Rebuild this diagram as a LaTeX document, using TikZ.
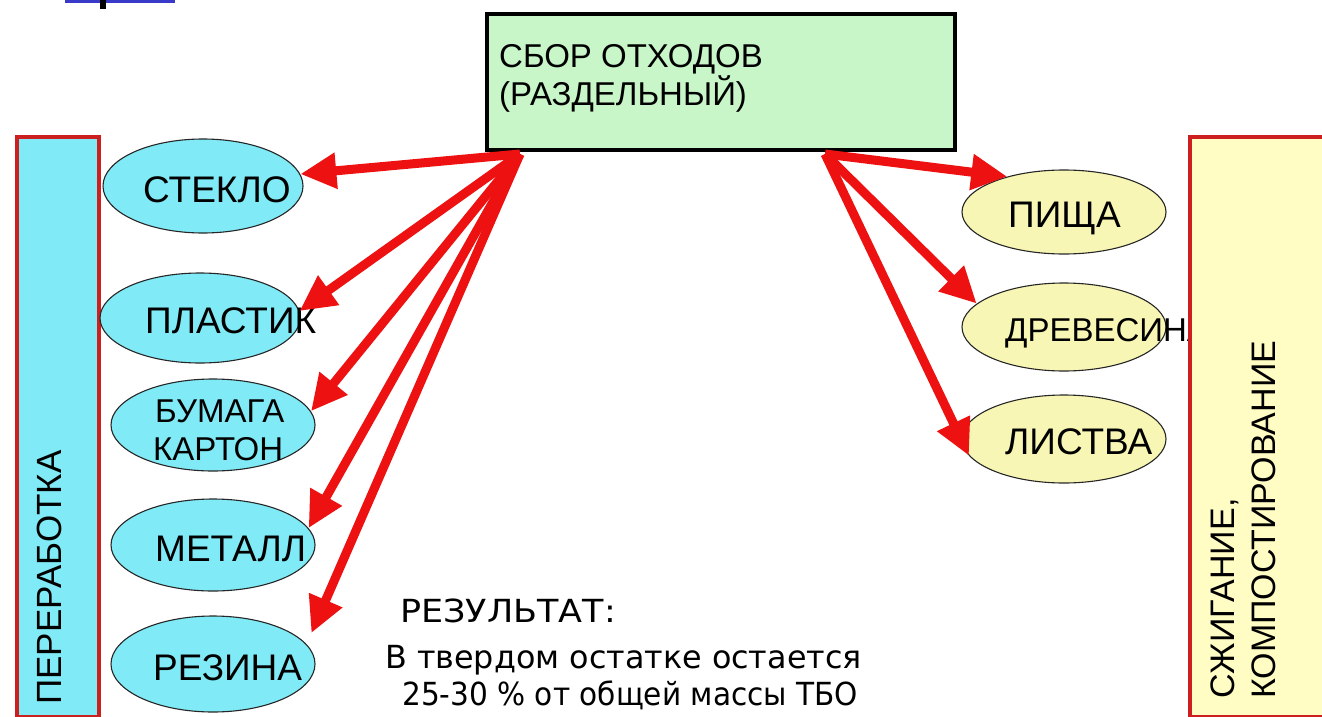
\documentclass[tikz,border=0pt]{standalone}
\usepackage{fontspec}
\usepackage{graphicx}
\setmainfont{Liberation Sans}
\newfontfamily\resfont{DejaVu Sans}
\usetikzlibrary{shapes.geometric,arrows.meta}
\definecolor{boxgreen}{HTML}{C8F6C8}
\definecolor{cyanfill}{HTML}{80EAF6}
\definecolor{yellowfill}{HTML}{F8F6B4}
\definecolor{sideyellow}{HTML}{FFFDC4}
\definecolor{borderred}{HTML}{CC2020}
\definecolor{arrowred}{HTML}{EE1111}
\definecolor{fragblue}{HTML}{3A3AC8}
\begin{document}
\begin{tikzpicture}[x=1pt,y=-1pt,
  lbl/.style={inner sep=0pt, anchor=base west, font=\fontsize{37}{42}\selectfont},
  reslbl/.style={inner sep=0pt, anchor=base west, font=\resfont\fontsize{31.8}{38}\selectfont},
  cyanell/.style={ellipse, draw=black!85, line width=1.1pt, fill=cyanfill, inner sep=0pt},
  yelell/.style={ellipse, draw=black!85, line width=1.1pt, fill=yellowfill, inner sep=0pt},
  sidebox/.style={draw=borderred, line width=4pt, inner sep=0pt, anchor=north west},
  arr/.style={draw=arrowred, line width=9pt, -{Triangle[length=36pt,width=34pt]}}
]
\useasboundingbox (0,0) rectangle (1322,717);
\clip (0,0) rectangle (1322,717);

% top-left fragment
\fill[fragblue] (65,0) rectangle (175,3);
\fill[black] (100,0) rectangle (106,9);

% left side box
\node[sidebox, fill=cyanfill, minimum width=82pt, minimum height=580pt] (recyc) at (15,135) {};
\node[lbl, rotate=90, font=\fontsize{35}{40}\selectfont] (recyct) at (61,705) {ПЕРЕРАБОТКА};

% left ellipses
\node[cyanell, minimum width=200pt, minimum height=94pt] (steklo) at (203,186) {};
\node[lbl] at (143,202) {СТЕКЛО};
\node[cyanell, minimum width=200pt, minimum height=90pt] (plastik) at (200,318) {};
\node[lbl] at (145,333) {ПЛАСТИК};
\node[cyanell, minimum width=204pt, minimum height=92pt] (bumaga) at (213,425) {};
\node[lbl, font=\fontsize{33}{38}\selectfont] at (155,422) {БУМАГА};
\node[lbl, font=\fontsize{33}{38}\selectfont] at (153,460) {КАРТОН};
\node[cyanell, minimum width=204pt, minimum height=92pt] (metall) at (213,545) {};
\node[lbl] at (155,561) {МЕТАЛЛ};
\node[cyanell, minimum width=204pt, minimum height=96pt] (rezina) at (213,664) {};
\node[lbl] at (153,680) {РЕЗИНА};

% right ellipses
\node[yelell, minimum width=204pt, minimum height=84pt] (pishcha) at (1064,212) {};
\node[lbl] at (1008,227) {ПИЩА};
\node[yelell, minimum width=204pt, minimum height=88pt] (drevesina) at (1064,327) {};
\node[lbl, font=\fontsize{33}{38}\selectfont] at (1005,341) {ДРЕВЕСИНА};
\node[yelell, minimum width=204pt, minimum height=88pt] (listva) at (1064,439) {};
\node[lbl] at (1005,454) {ЛИСТВА};

% right side box
\node[sidebox, fill=sideyellow, minimum width=160pt, minimum height=580pt] (burn) at (1188,135) {};
\node[lbl, rotate=90, font=\fontsize{34}{40}\selectfont] (burnt1) at (1234,699) {СЖИГАНИЕ,};
\node[lbl, rotate=90, font=\fontsize{34}{40}\selectfont] (burnt2) at (1275,699) {КОМПОСТИРОВАНИЕ};

% top box
\node[draw=black, line width=4pt, fill=boxgreen, minimum width=468pt, minimum height=136pt, anchor=north west, inner sep=0pt] (collect) at (485,12) {};
\node[lbl, font=\fontsize{33}{38}\selectfont] at (499,67) {СБОР ОТХОДОВ};
\node[lbl, font=\fontsize{33}{38}\selectfont] at (499,105) {(РАЗДЕЛЬНЫЙ)};

% result text
\node[reslbl] (res1) at (400,622) {\scalebox{1.1}[1]{РЕЗУЛЬТАТ:}};
\node[reslbl] (res2) at (385,668) {В твердом остатке остается};
\node[reslbl] (res3) at (402,705) {\scalebox{0.93}[1]{25-30 \% от общей массы ТБО}};

% arrows
\coordinate (sl) at ([xshift=35pt,yshift=-2pt]collect.south west);
\coordinate (sr) at ([xshift=340pt,yshift=-2pt]collect.south west);
\draw[arr] (sl) -- (steklo.7);
\draw[arr] (sl) -- (plastik.4);
\draw[arr] (sl) -- (bumaga.8);
\draw[arr] (sl) -- (metall.10);
\draw[arr, shorten >=12pt] (sl) -- (rezina.12);
\draw[arr] (sr) -- (pishcha.148);
\draw[arr] (sr) -- (drevesina.165);
\draw[arr] (sr) -- (listva.190);
\end{tikzpicture}
\end{document}
